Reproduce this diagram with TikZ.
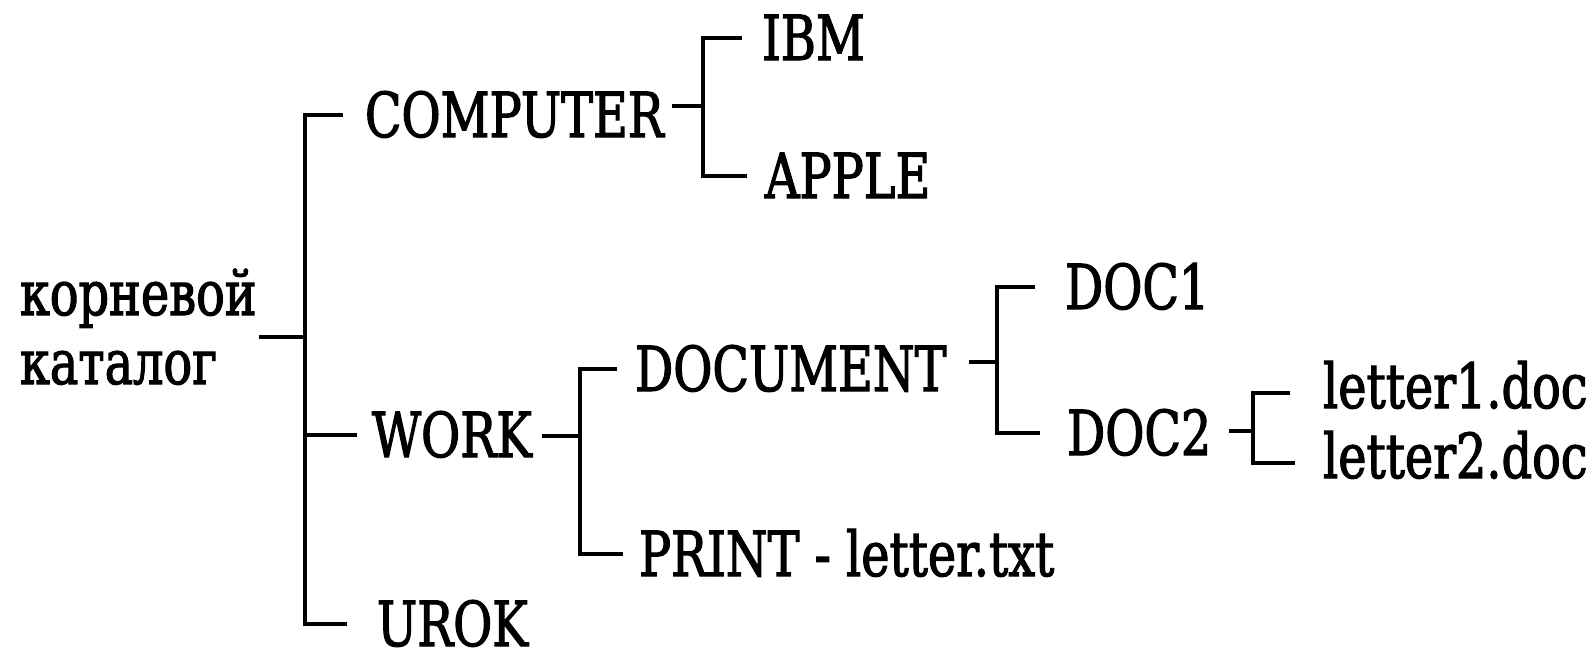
\documentclass[tikz,border=0pt]{standalone}
\usepackage{fontspec}
\setmainfont[FakeStretch=0.77, FakeBold=1.8]{DejaVu Serif}

\tikzset{
  dir/.style={anchor=base west, inner sep=0pt, text height=22.5pt, text depth=0pt,
    font=\fontsize{31}{37}\selectfont},
  file/.style={dir, text height=15pt},
}

\begin{document}
\begin{tikzpicture}[x=0.5pt, y=-0.5pt, line width=2pt]
\useasboundingbox (0,0) rectangle (1591,659);

\node[dir] (rootA) at (18,315) {корневой};
\node[dir] (rootB) at (18,384) {каталог};
\node[dir] (comp) at (363,137) {COMPUTER};
\node[dir] (work) at (370,457) {WORK};
\node[dir] (urok) at (375,646) {UROK};
\node[dir] (ibm) at (760,60) {IBM};
\node[dir] (apple) at (763,198) {APPLE};
\node[dir] (document) at (633,391) {DOCUMENT};
\node[dir] (print) at (637,576) {PRINT - letter.txt};
\node[dir] (doc1) at (1063,309) {DOC1};
\node[dir] (doc2) at (1065,455) {DOC2};
\node[file] (letterA) at (1321,408) {letter1.doc};
\node[file] (letterB) at (1321,478) {letter2.doc};

\coordinate (jroot) at (305,337);
\coordinate (jcomp) at (703,106);
\coordinate (jwork) at (580,436);
\coordinate (jdoc) at (997,362);
\coordinate (jdoc2) at (1253,431);

% root
\draw (rootA.east |- jroot) -- (jroot);
\draw ([xshift=-10pt]comp.west) -| (jroot) |- ([xshift=-14pt]urok.west);
\draw (jroot |- work.west) -- ([xshift=-6.5pt]work.west);

% COMPUTER
\draw ([xshift=3pt]comp.east |- jcomp) -- (jcomp);
\draw ([xshift=-9pt]ibm.west) -| (jcomp) |- ([xshift=-8pt]apple.west);

% WORK
\draw ([xshift=4pt]work.east |- jwork) -- (jwork);
\draw ([xshift=-8pt]document.west) -| (jwork) |- ([xshift=-7pt]print.west);

% DOCUMENT
\draw ([xshift=10pt]document.east |- jdoc) -- (jdoc);
\draw ([xshift=-14pt]doc1.west) -| (jdoc) |- ([xshift=-12.5pt]doc2.west);

% DOC2
\draw ([xshift=8pt]doc2.east |- jdoc2) -- (jdoc2);
\draw ([xshift=-15.5pt]letterA.west) -| (jdoc2) |- ([xshift=-13pt]letterB.west);

\end{tikzpicture}
\end{document}
